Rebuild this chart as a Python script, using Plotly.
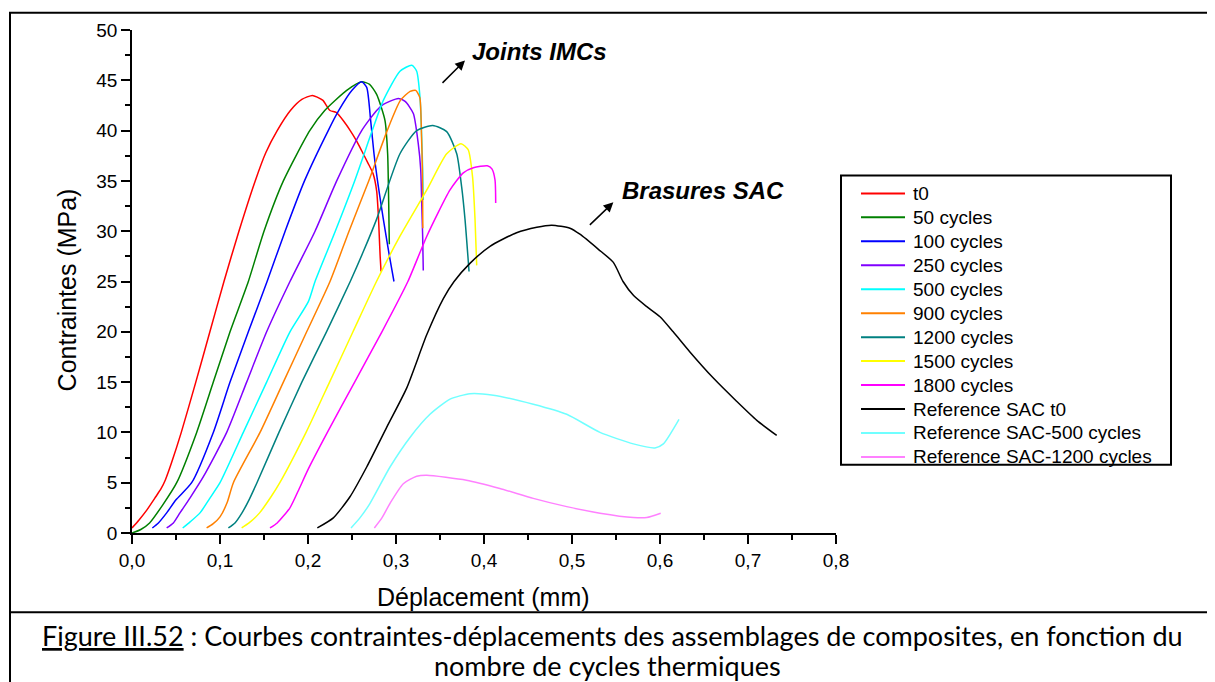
import plotly.graph_objects as go

# deplacement (mm) / contrainte (MPa)
t0_x = [0.000, 0.008, 0.017, 0.027, 0.033, 0.038, 0.045, 0.056, 0.0725, 0.0885, 0.1045, 0.1215, 0.140,
        0.152, 0.165, 0.180, 0.193, 0.205, 0.211, 0.217, 0.225, 0.232, 0.240, 0.248, 0.255,
        0.261, 0.268, 0.274, 0.278, 0.280, 0.281, 0.282, 0.283]
t0_y = [0.5, 1.3, 2.3, 3.6, 4.4, 5.3, 7.0, 10.0, 15.0, 20.0, 25.0, 30.0, 35.0,
        37.8, 40.0, 42.0, 43.1, 43.5, 43.3, 43.0, 42.0, 41.8, 41.0, 40.0, 39.0,
        38.0, 36.8, 35.7, 34.0, 31.5, 29.5, 27.5, 26.0]

c50_x = [0.000, 0.010, 0.020, 0.035, 0.0508, 0.0735, 0.0924, 0.1114, 0.1322, 0.150, 0.172, 0.202,
         0.219, 0.244, 0.261, 0.270, 0.278, 0.2875, 0.2905, 0.2917, 0.2924]
c50_y = [0.0, 0.35, 1.0, 2.8, 5.0, 10.0, 15.0, 20.0, 25.0, 30.0, 35.0, 40.0,
         42.0, 44.0, 44.85, 44.6, 43.6, 41.0, 37.7, 32.8, 28.7]

c100_x = [0.0231, 0.030, 0.0394, 0.050, 0.0678, 0.0924, 0.1114, 0.1322, 0.1535, 0.174, 0.196, 0.223,
          0.235, 0.250, 0.261, 0.2667, 0.2712, 0.275, 0.280, 0.2856, 0.2924, 0.2977]
c100_y = [0.5, 1.0, 2.0, 3.3, 5.0, 10.0, 15.0, 20.0, 25.0, 30.0, 35.0, 40.0,
          42.0, 44.0, 44.85, 44.3, 41.0, 37.7, 34.4, 31.2, 27.6, 25.0]

c250_x = [0.0394, 0.047, 0.0545, 0.066, 0.0811, 0.1076, 0.1303, 0.153, 0.1795, 0.208, 0.2326, 0.261,
          0.278, 0.2856, 0.3026, 0.3104, 0.3197, 0.3253, 0.3281, 0.3292, 0.3303, 0.331]
c250_y = [0.5, 1.0, 2.0, 3.5, 5.6, 10.0, 15.0, 20.0, 25.0, 30.0, 35.0, 40.0,
          42.0, 42.6, 43.2, 42.9, 41.7, 38.7, 36.1, 32.8, 29.5, 26.1]

c500_x = [0.0576, 0.066, 0.0773, 0.088, 0.100, 0.1265, 0.153, 0.1795, 0.2004, 0.208, 0.231, 0.253,
          0.273, 0.2856, 0.3045, 0.318, 0.3235, 0.3273, 0.3292, 0.3303, 0.331]
c500_y = [0.5, 1.1, 2.0, 3.4, 5.0, 10.0, 15.0, 20.0, 23.0, 25.0, 30.0, 35.0,
          40.0, 43.0, 45.9, 46.5, 45.9, 43.3, 39.4, 36.1, 33.1]

c900_x = [0.0848, 0.092, 0.100, 0.108, 0.1152, 0.1455, 0.172, 0.1985, 0.225, 0.2466, 0.269, 0.290,
          0.305, 0.316, 0.3224, 0.327, 0.329, 0.330, 0.3303, 0.3305]
c900_y = [0.5, 0.9, 1.6, 3.0, 5.0, 10.0, 15.0, 20.0, 25.0, 30.0, 35.0, 40.0,
          43.0, 43.9, 44.0, 43.3, 39.4, 36.1, 32.8, 30.3]

c1200_x = [0.1095, 0.117, 0.125, 0.133, 0.142, 0.167, 0.193, 0.221, 0.248, 0.263, 0.278, 0.3045,
           0.3235, 0.3417, 0.3576, 0.369, 0.3746, 0.3784, 0.383]
c1200_y = [0.5, 1.0, 2.0, 3.3, 5.0, 10.0, 15.0, 20.0, 25.0, 28.0, 31.2, 37.7,
           40.0, 40.5, 39.9, 37.7, 34.4, 31.2, 26.0]

c1500_x = [0.1246, 0.133, 0.145, 0.158, 0.168, 0.1978, 0.2245, 0.2511, 0.2778, 0.3045, 0.335, 0.3576,
           0.3739, 0.382, 0.387, 0.3898, 0.3917]
c1500_y = [0.5, 1.0, 2.0, 3.6, 5.0, 10.0, 15.0, 20.0, 25.0, 29.5, 34.1, 37.7,
           38.7, 38.1, 35.4, 31.2, 26.6]

c1800_x = [0.1568, 0.165, 0.1795, 0.190, 0.200, 0.222, 0.253, 0.284, 0.3135, 0.335, 0.3614, 0.3765,
           0.3879, 0.4038, 0.409, 0.4125, 0.4133]
c1800_y = [0.5, 1.0, 2.5, 4.4, 6.3, 10.0, 15.0, 20.0, 25.0, 29.5, 34.1, 35.8,
           36.3, 36.5, 36.2, 35.1, 32.8]

ref0_x = [0.2106, 0.2288, 0.2477, 0.2667, 0.2894, 0.3121, 0.3349, 0.3538, 0.366, 0.384, 0.4068, 0.437,
          0.460, 0.477, 0.4977, 0.509, 0.530, 0.547, 0.558, 0.570, 0.585, 0.600, 0.615, 0.634,
          0.6606, 0.687, 0.710, 0.7326]
ref0_y = [0.5, 1.5, 3.6, 6.56, 10.5, 14.4, 19.7, 23.3, 25.0, 26.8, 28.5, 29.85,
          30.4, 30.6, 30.3, 29.7, 28.2, 26.9, 25.0, 23.6, 22.5, 21.5, 20.0, 18.0,
          15.4, 13.1, 11.2, 9.7]

ref500_x = [0.2489, 0.259, 0.2705, 0.2932, 0.3159, 0.3386, 0.3614, 0.384, 0.4106, 0.456, 0.494, 0.5318,
            0.5697, 0.5943, 0.6038, 0.6216]
ref500_y = [0.5, 1.5, 2.95, 6.56, 9.5, 11.8, 13.3, 13.85, 13.7, 12.8, 11.8, 10.0,
            8.86, 8.46, 8.86, 11.3]

ref1200_x = [0.2754, 0.284, 0.2932, 0.3083, 0.3235, 0.335, 0.380, 0.418, 0.456, 0.494, 0.5318, 0.5697,
             0.585, 0.6008]
ref1200_y = [0.5, 1.5, 2.95, 4.9, 5.64, 5.74, 5.25, 4.43, 3.44, 2.62, 1.97, 1.54,
             1.54, 1.97]

names = ["t0", "50 cycles", "100 cycles", "250 cycles", "500 cycles", "900 cycles",
         "1200 cycles", "1500 cycles", "1800 cycles", "Reference SAC t0",
         "Reference SAC-500 cycles", "Reference SAC-1200 cycles"]
colors = ["#ff0000", "#008000", "#0000ff", "#8000ff", "#00ffff", "#ff8000",
          "#008080", "#ffff00", "#ff00ff", "#000000", "#70ffff", "#ff80ff"]
xs = [t0_x, c50_x, c100_x, c250_x, c500_x, c900_x, c1200_x, c1500_x, c1800_x,
      ref0_x, ref500_x, ref1200_x]
ys = [t0_y, c50_y, c100_y, c250_y, c500_y, c900_y, c1200_y, c1500_y, c1800_y,
      ref0_y, ref500_y, ref1200_y]

x_ticks = [0.0, 0.1, 0.2, 0.3, 0.4, 0.5, 0.6, 0.7, 0.8]
x_ticktext = ["0,0", "0,1", "0,2", "0,3", "0,4", "0,5", "0,6", "0,7", "0,8"]
y_ticks = [0, 5, 10, 15, 20, 25, 30, 35, 40, 45, 50]

# plot area as seen on the page (the page body adds an 8px offset)
OFF = 8
L, T, W, H = 132, 25, 704, 508


def px(x):
    return (x - L) / W


def py(y):
    return (T + H - y) / H


fig = go.Figure()
for x, y, name, c in zip(xs, ys, names, colors):
    fig.add_trace(go.Scatter(x=x, y=y, name=name, mode="lines",
                             line=dict(color=c, width=1.5, shape="spline", smoothing=0.6),
                             showlegend=False))

font = "Arial, Liberation Sans, sans-serif"
axis_common = dict(showline=True, linecolor="black", linewidth=1.5, ticks="outside",
                   ticklen=9, tickwidth=1.5, tickcolor="black", showgrid=False,
                   zeroline=False, mirror=False,
                   tickfont=dict(family=font, size=19, color="black"))
fig.update_xaxes(range=[0, 0.8], tickmode="array", tickvals=x_ticks, ticktext=x_ticktext,
                 minor=dict(ticks="outside", dtick=0.05, tick0=0, ticklen=5, tickwidth=1.5,
                            tickcolor="black", showgrid=False),
                 **axis_common)
fig.update_yaxes(range=[0, 50], tickmode="array", tickvals=y_ticks,
                 minor=dict(ticks="outside", dtick=2.5, tick0=0, ticklen=5, tickwidth=1.5,
                            tickcolor="black", showgrid=False),
                 **axis_common)

shapes = []
annotations = []

# page frame (table borders)
for x0, y0, x1, y1 in [(9, 7.5, 1215, 7.5), (10, 7, 10, 690), (10, 613, 1215, 613)]:
    shapes.append(dict(type="line", xref="paper", yref="paper",
                       x0=px(x0), y0=py(y0), x1=px(x1), y1=py(y1),
                       line=dict(color="black", width=2)))

# axis titles
title_font = dict(family=font, size=25, color="black")
annotations += [
    dict(text="Déplacement (mm)", xref="paper", yref="paper", x=px(483), y=py(598),
         xanchor="center", yanchor="middle", showarrow=False, font=title_font),
    dict(text="Contraintes (MPa)", xref="paper", yref="paper", x=px(67), y=py(288),
         xanchor="center", yanchor="middle", showarrow=False, textangle=-90, font=title_font),
]

# legend box
shapes.append(dict(type="rect", xref="paper", yref="paper",
                   x0=px(841), y0=py(172), x1=px(1171), y1=py(464),
                   line=dict(color="black", width=2)))
for i, (name, c) in enumerate(zip(names, colors)):
    yy = 190 + i * 24.2
    shapes.append(dict(type="line", xref="paper", yref="paper",
                       x0=px(861), x1=px(905), y0=py(yy), y1=py(yy),
                       line=dict(color=c, width=2)))
    annotations.append(dict(text=name, xref="paper", yref="paper", x=px(911), y=py(yy),
                            xanchor="left", yanchor="middle", showarrow=False,
                            font=dict(family=font, size=19, color="black")))

# curve group labels with arrows
annotations += [
    dict(text="<b><i>Joints IMCs</i></b>", x=0.384, y=47.9, xanchor="left", yanchor="middle",
         showarrow=False, font=dict(family=font, size=24, color="black")),
    dict(text="<b><i>Brasures SAC</i></b>", x=0.5545, y=34.0, xanchor="left", yanchor="middle",
         showarrow=False, font=dict(family=font, size=24, color="black")),
    dict(text="", x=0.3784, y=46.98, ax=-24, ay=24, showarrow=True, arrowhead=2,
         arrowsize=1.3, arrowwidth=1.5, arrowcolor="black"),
    dict(text="", x=0.547, y=32.87, ax=-25, ay=24, showarrow=True, arrowhead=2,
         arrowsize=1.3, arrowwidth=1.5, arrowcolor="black"),
]

# figure caption
cap_font = dict(family="Lato, Noto Sans, sans-serif", size=27, color="black")
annotations += [
    dict(text="<u>Figure III.52</u> : Courbes contraintes-déplacements des assemblages de composites, en fonction du",
         xref="paper", yref="paper", x=px(612), y=py(637), xanchor="center", yanchor="middle",
         showarrow=False, font=cap_font),
    dict(text="nombre de cycles thermiques", xref="paper", yref="paper", x=px(607), y=py(667),
         xanchor="center", yanchor="middle", showarrow=False, font=cap_font),
]

fig.update_layout(width=1215, height=682,
                  margin=dict(l=L - OFF, r=1215 - (L - OFF) - W, t=T - OFF, b=682 - (T - OFF) - H),
                  paper_bgcolor="white", plot_bgcolor="white", shapes=shapes,
                  annotations=annotations, showlegend=False)

fig.write_html("out.html")
